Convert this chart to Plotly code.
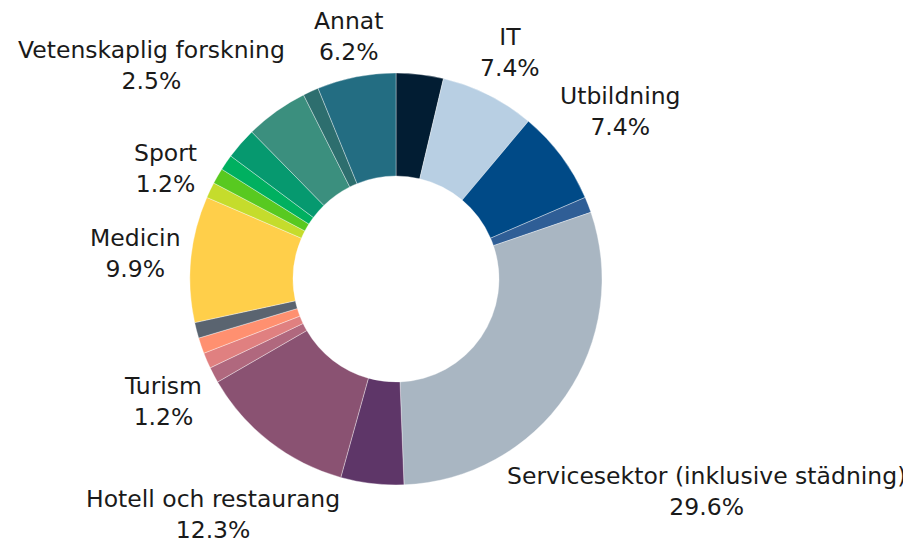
import math
import plotly.graph_objects as go

categories = [
    "Okänd 1", "IT", "Utbildning", "Okänd 2", "Servicesektor (inklusive städning)",
    "Okänd 3", "Hotell och restaurang", "Turism", "Okänd 4", "Okänd 5",
    "Okänd 6", "Medicin", "Sport", "Okänd 7", "Okänd 8",
    "Vetenskaplig forskning", "Okänd 9", "Okänd 10", "Annat",
]
counts = [3, 6, 6, 1, 24, 4, 10, 1, 1, 1, 1, 8, 1, 1, 1, 2, 4, 1, 5]
shown = [False, True, True, False, True, False, True, True, False, False,
         False, True, True, False, False, True, False, False, True]
colors = [
    "#021d33", "#b8cfe3", "#004a87", "#2f5e96", "#a9b6c2",
    "#5e3668", "#8a5272", "#b0687e", "#e08080", "#ff9070",
    "#5a6470", "#ffcf4a", "#c5dc2c", "#58c920", "#00b060",
    "#06996f", "#3b8f7e", "#2d6e6e", "#236d82",
]

FONT = "DejaVu Sans"
FS = 23.5
FIG_W, FIG_H = 911, 542
MARGIN = dict(l=0, r=135, t=65, b=65)
PW = FIG_W - MARGIN["l"] - MARGIN["r"]
PH = FIG_H - MARGIN["t"] - MARGIN["b"]
R_PIE = min(PW, PH) / 2
R_LABEL = R_PIE + 9
HALF_H = 1.2 * FS

CHAR_EM = {
    " ": .318, "a": .613, "b": .635, "c": .550, "d": .635, "e": .615, "f": .352,
    "g": .635, "h": .634, "i": .278, "j": .278, "k": .579, "l": .278, "m": .974,
    "n": .634, "o": .612, "p": .635, "r": .411, "s": .521, "t": .392, "u": .634,
    "v": .592, "ä": .613, "I": .295, "A": .684, "M": .863, "S": .635, "T": .611,
    "U": .732, "V": .684, "H": .752, ".": .318, "%": .950, "(": .390, ")": .390,
}


def text_w(s):
    return sum(CHAR_EM.get(ch, .636) for ch in s) * FS


total = sum(counts)
annotations = []
cum = 0
for name, c, show in zip(categories, counts, shown):
    mid = (cum + c / 2) / total * 2 * math.pi
    cum += c
    if not show:
        continue
    pct = f"{100 * c / total:.1f}%"
    a = max(text_w(name), text_w(pct)) / 2
    ux, uy = math.sin(mid), math.cos(mid)
    lo, hi = 0.0, 1000.0
    for _ in range(60):
        d = (lo + hi) / 2
        dx = max(abs(d * ux) - a, 0)
        dy = max(abs(d * uy) - HALF_H, 0)
        if math.hypot(dx, dy) < R_LABEL:
            lo = d
        else:
            hi = d
    d = (lo + hi) / 2
    annotations.append(dict(
        x=0.5 + d * ux / PW, y=0.5 + d * uy / PH,
        xref="paper", yref="paper", showarrow=False,
        xanchor="center", yanchor="middle", align="center",
        text=f"{name}<br>{pct}",
        font=dict(family=FONT, size=FS, color="#1a1a1a"),
    ))

fig = go.Figure(go.Pie(
    labels=categories,
    values=counts,
    sort=False,
    direction="clockwise",
    rotation=0,
    hole=0.5,
    marker=dict(colors=colors, line=dict(color="rgba(255,255,255,0.6)", width=0.6)),
    textinfo="none",
    hoverinfo="label+percent",
    showlegend=False,
))
fig.update_layout(
    width=FIG_W, height=FIG_H,
    margin=MARGIN,
    paper_bgcolor="white",
    plot_bgcolor="white",
    annotations=annotations,
)
fig.write_html("out.html")
